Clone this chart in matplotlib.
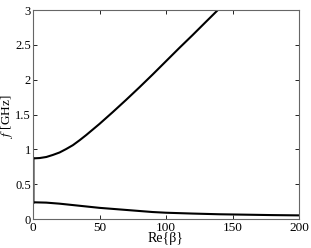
import numpy as np
import matplotlib
matplotlib.use('Agg')
import matplotlib.pyplot as plt

plt.rcParams['font.family'] = 'Liberation Serif'
plt.rcParams['mathtext.fontset'] = 'stix'

# upper branch
beta_up = [0, 5, 10, 15, 20, 25, 30, 35, 40, 45, 50, 60, 70, 80, 90, 100, 110, 120, 130, 139]
f_up = [0.87, 0.875, 0.89, 0.92, 0.955, 1.005, 1.06, 1.13, 1.205, 1.285, 1.365, 1.535, 1.71, 1.89, 2.075, 2.265, 2.455, 2.64, 2.83, 3.0]
# lower branch
beta_lo = [0, 10, 20, 30, 40, 50, 60, 70, 80, 90, 100, 120, 140, 160, 180, 200]
f_lo = [0.24, 0.235, 0.22, 0.20, 0.18, 0.16, 0.145, 0.13, 0.115, 0.10, 0.09, 0.078, 0.068, 0.062, 0.056, 0.052]
# join at beta = 0
beta_join = [0, 0]
f_join = [0.24, 0.87]

fig = plt.figure(figsize=(3.11, 2.48), dpi=100)
ax = fig.add_axes([33/311, 29/248, 266/311, 209/248])
ax.plot(beta_join, f_join, color='0.5', lw=2)
ax.plot(beta_up, f_up, 'k', lw=1.5)
ax.plot(beta_lo, f_lo, 'k', lw=1.5)
ax.set_xlim(0, 200)
ax.set_ylim(0, 3)
ax.set_xticks([0, 50, 100, 150, 200])
ax.set_yticks([0, 0.5, 1, 1.5, 2, 2.5, 3])
ax.set_yticklabels(['0', '0.5', '1', '1.5', '2', '2.5', '3'])
ax.tick_params(direction='in', top=True, right=True, labelsize=9.5, length=3, width=0.6, colors='k', pad=2)
ax.tick_params(axis='y', labelsize=9, pad=1.5)
for s in ax.spines.values():
    s.set_color('0.4')
    s.set_linewidth(0.8)
ax.set_xlabel('Re{β}', fontsize=10, labelpad=-1)
ax.set_ylabel(r'$f$ [GHz]', fontsize=9.5)
ax.yaxis.set_label_coords(-0.066, 0.49)
fig.savefig('out.png', dpi=100)
